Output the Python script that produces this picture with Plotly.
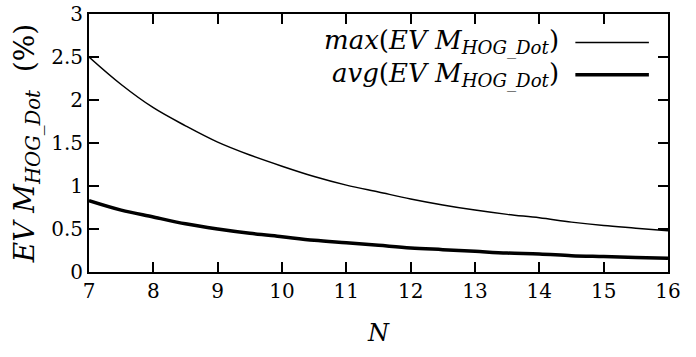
import plotly.graph_objects as go

N = [7, 7.5, 8, 8.5, 9, 9.5, 10, 10.5, 11, 11.5, 12, 12.5, 13, 13.5, 14, 14.5, 15, 15.5, 16]
max_evm = [2.50, 2.18, 1.91, 1.70, 1.51, 1.36, 1.23, 1.11, 1.01, 0.93, 0.85, 0.78, 0.72, 0.67, 0.63, 0.58, 0.54, 0.51, 0.48]
avg_evm = [0.83, 0.72, 0.64, 0.56, 0.50, 0.45, 0.41, 0.37, 0.34, 0.31, 0.28, 0.26, 0.24, 0.22, 0.21, 0.19, 0.18, 0.17, 0.16]
x_ticks = [7, 8, 9, 10, 11, 12, 13, 14, 15, 16]
y_ticks = [0, 0.5, 1, 1.5, 2, 2.5, 3]
y_tick_labels = ["0", "0.5", "1", "1.5", "2", "2.5", "3"]
legend_max = "<i>max</i>(<i>EV M</i><sub><i>HOG_Dot</i></sub>)"
legend_avg = "<i>avg</i>(<i>EV M</i><sub><i>HOG_Dot</i></sub>)"

FONT = "DejaVu Serif"

fig = go.Figure()
fig.add_trace(go.Scatter(x=N, y=max_evm, mode="lines", line=dict(color="black", width=1.5, shape="spline"),
                         name="max", showlegend=False))
fig.add_trace(go.Scatter(x=N, y=avg_evm, mode="lines", line=dict(color="black", width=3.5, shape="spline"),
                         name="avg", showlegend=False))

# legend drawn manually (text right-aligned, sample line to the right)
for txt, yy, w in [(legend_max, 0.89, 1.5), (legend_avg, 0.765, 3.5)]:
    fig.add_annotation(x=0.815, y=yy, xref="paper", yref="paper", text=txt, showarrow=False,
                       xanchor="right", yanchor="middle", font=dict(family=FONT, size=26, color="black"))
    fig.add_shape(type="line", xref="paper", yref="paper", x0=0.84, x1=0.967, y0=yy, y1=yy,
                  line=dict(color="black", width=w))

fig.update_layout(
    template="none",
    width=696, height=357,
    margin=dict(l=89, r=28, t=14, b=85),
    plot_bgcolor="white", paper_bgcolor="white",
    font=dict(family=FONT, size=20, color="black"),
    showlegend=False,
)
fig.update_xaxes(range=[7, 16], tickvals=x_ticks, ticks="inside", ticklen=10, tickwidth=2, tickcolor="#000",
                 showline=True, linewidth=2, linecolor="black", mirror="ticks", showgrid=False,
                 zeroline=False, tickfont=dict(family=FONT, size=20, color="black"),
                 title=dict(text="<i>N</i>", font=dict(family=FONT, size=24, color="black"), standoff=22))
fig.update_yaxes(range=[0, 3], tickvals=y_ticks, ticktext=y_tick_labels, ticks="inside", ticklen=10, tickwidth=2,
                 tickcolor="#000",
                 showline=True, linewidth=2, linecolor="black", mirror="ticks", showgrid=False,
                 zeroline=False, tickfont=dict(family=FONT, size=20, color="black"),
                 title=dict(text="<i>EV M</i><sub><i>HOG_Dot</i></sub>  (%)", font=dict(family=FONT, size=28, color="black"),
                            standoff=8))

fig.write_html("out.html")
